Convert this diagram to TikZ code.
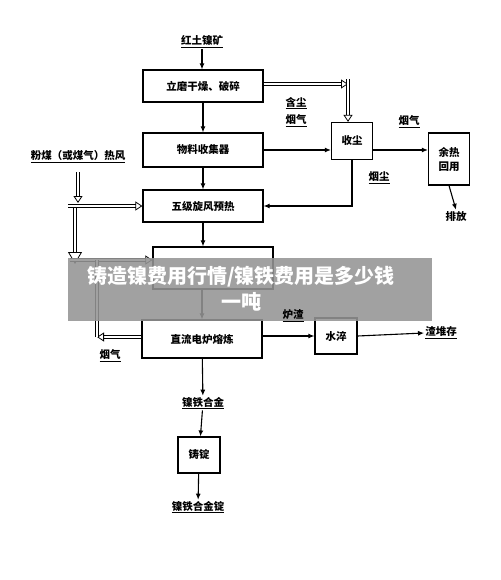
\documentclass[tikz,border=0pt]{standalone}
\usepackage{fontspec}
\setmainfont{Noto Sans CJK SC}
\usetikzlibrary{arrows.meta}

\begin{document}
\begin{tikzpicture}[x=1pt,y=-1pt,
    font=\fontsize{10.5}{12}\selectfont\bfseries,
    box/.style={draw,line width=1.2pt,minimum width=120pt,minimum height=34pt,inner sep=0pt},
    sbox/.style={draw,line width=1.2pt,minimum width=42pt,minimum height=36pt,inner sep=0pt},
    lbl/.style={inner sep=1pt},
    arr/.style={line width=1.1pt,-{Latex[length=6pt,width=5pt]}},
    dbl/.style={double,double distance=2.4pt,line width=0.8pt,-{Triangle[open,length=7pt,width=9pt]}}]
  \useasboundingbox (0,0) rectangle (500,580);
  % boxes
  \node[box,minimum height=32pt] (dry) at (203,86) {立磨干燥、破碎};
  \node[box] (collect) at (203,150) {物料收集器};
  \node[box,minimum height=32pt] (cyclone) at (203,206) {五级旋风预热};
  \node[box,minimum height=42pt] (kiln) at (213,268) {};
  \node[box,minimum height=38pt] (furnace) at (202,339) {直流电炉熔炼};
  \node[sbox] (quench) at (336,336) {水淬};
  \node[sbox] (cast) at (199,455) {铸锭};
  \node[sbox,minimum width=41pt,minimum height=37pt] (dust) at (352,141) {收尘};
  \node[sbox,minimum width=41pt,minimum height=52pt,align=center] (heat) at (449,159) {余热\\[2pt]回用};
  % labels
  \node[lbl] (ore) at (202,42) {\underline{红土镍矿}};
  \node[lbl] (dg1) at (296,103) {\underline{含尘}};
  \node[lbl] (dg2) at (296,121) {\underline{烟气}};
  \node[lbl] (flue1) at (409,122) {\underline{烟气}};
  \node[lbl] (fume) at (379,178) {\underline{烟尘}};
  \node[lbl] (exhaust) at (456,216) {排放};
  \node[lbl] (hotair) at (78,157) {\underline{粉煤（或煤气）热风}};
  \node[lbl] (stack) at (441,333) {\underline{渣堆存}};
  \node[lbl] (flue2) at (110,356) {\underline{烟气}};
  \node[lbl] (alloy) at (203,403) {\underline{镍铁合金}};
  \node[lbl] (ingot) at (198,507) {\underline{镍铁合金锭}};
  % main line
  \draw[arr] (ore) -- (ore |- dry.north);
  \draw[arr] (dry) -- (collect);
  \draw[arr] (collect) -- (cyclone);
  \draw[arr] (cyclone.south) -- (cyclone.south |- kiln.north);
  \draw[arr] (furnace.north |- kiln.south) -- (furnace.north);
  \draw[arr] (furnace) -- (alloy);
  \draw[arr] (alloy) -- (cast);
  \draw[arr] (cast) -- (ingot);
  \draw[arr] (furnace.east |- quench) -- (quench.west);
  \draw[arr] (quench.east) -- (stack.west);
  % dust side
  \coordinate (gc) at (348,84);
  \draw[dbl] (dry.east |- gc) -- (gc);
  \draw[dbl] (348,79) -- (gc |- dust.north);
  \draw[arr] (collect.east) -- (collect.east -| dust.west);
  \draw[arr] (dust.east |- collect) -- (heat.west |- collect);
  \draw[arr] (dust.south) |- (cyclone.east);
  \draw[arr] (heat.south) -- (exhaust.north);
  % hot air and flue gas
  \coordinate (ha) at (78,172);
  \coordinate (hb) at (78,203);
  \coordinate (hc) at (68,206);
  \coordinate (hd) at (75,208);
  \coordinate (he) at (75,264);
  \coordinate (hf) at (70,260);
  \coordinate (fl) at (97,337);
  \draw[dbl] (ha) -- (hb);
  \draw[dbl] (hc) -- (cyclone.west);
  \draw[dbl,-{Triangle[open,length=12pt,width=14pt]}] (hd) -- (he);
  \draw[dbl] (hf) -- (hf -| kiln.west);
  \draw[dbl] (furnace.west |- fl) -- (fl);
  \draw[double,double distance=2.4pt,line width=0.8pt] (fl) -- (fl |- hf);
  % banner
  \fill[black!42,opacity=0.88] (68,258) rectangle (432,321);
  \node[lbl] (slag) at (293,316) {\underline{炉渣}};
  \node[text=white,font=\fontsize{20}{24}\selectfont\bfseries] (ban1) at (241,277) {铸造镍费用行情/镍铁费用是多少钱};
  \node[text=white,font=\fontsize{20}{24}\selectfont\bfseries] (ban2) at (241,302) {一吨};
\end{tikzpicture}
\end{document}
